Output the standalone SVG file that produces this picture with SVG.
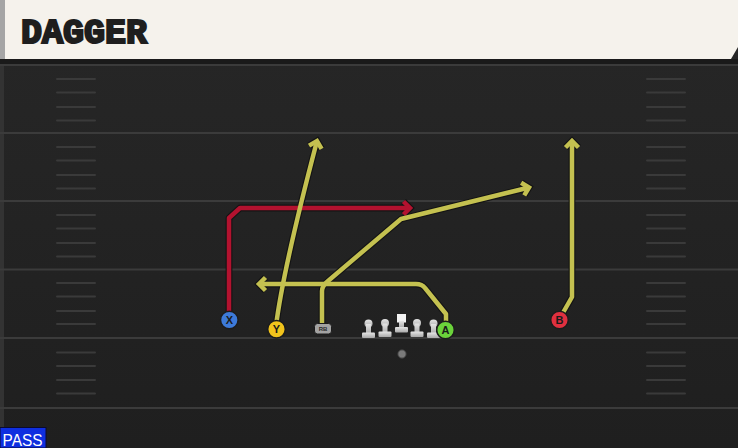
<svg xmlns="http://www.w3.org/2000/svg" width="738" height="448" viewBox="0 0 738 448">
  <defs>
    <style>
      .fline { stroke: #3b3b3b; stroke-width: 2; }
      .hash { stroke: #3a3a3a; stroke-width: 2; stroke-linecap: round; }
      .out { fill: none; stroke: #141414; stroke-width: 6.8; stroke-linejoin: round; stroke-linecap: butt; }
      .yel { fill: none; stroke: #c4c150; stroke-width: 4.5; stroke-linejoin: round; }
      .red { fill: none; stroke: #b3122f; stroke-width: 4.5; stroke-linejoin: round; }
      .plab { font-family: "Liberation Sans", Arial, sans-serif; font-weight: bold; font-size: 11px; fill: #1a1a1a; text-anchor: middle; }
      .pc { stroke: #1c1c1c; stroke-width: 1.5; }
      .ol { fill: url(#olg); }
      .title { font-family: "Liberation Mono", "Courier New", monospace; font-weight: bold; font-size: 35px; fill: #1e1e1e; stroke: #1e1e1e; stroke-width: 2.2; stroke-linejoin: miter; }
    </style>
    <linearGradient id="olg" x1="0" y1="0" x2="0" y2="1">
      <stop offset="0" stop-color="#e6e6e6"/>
      <stop offset="1" stop-color="#a9a9a9"/>
    </linearGradient>
    <linearGradient id="fieldg" x1="0" y1="0" x2="0" y2="1">
      <stop offset="0" stop-color="#272727"/>
      <stop offset="1" stop-color="#1f1f1f"/>
    </linearGradient>
    <marker id="aOut" markerUnits="userSpaceOnUse" viewBox="-12 -12 24 24" markerWidth="24" markerHeight="24" refX="0" refY="0" orient="auto">
      <path d="M-6.5,-6.5 L0,0 L-6.5,6.5" fill="none" stroke="#141414" stroke-width="6.8" stroke-linejoin="miter"/>
    </marker>
    <marker id="aYel" markerUnits="userSpaceOnUse" viewBox="-12 -12 24 24" markerWidth="24" markerHeight="24" refX="0" refY="0" orient="auto">
      <path d="M-6.5,-6.5 L0,0 L-6.5,6.5" fill="none" stroke="#c4c150" stroke-width="4.5" stroke-linejoin="miter"/>
    </marker>
    <marker id="aRed" markerUnits="userSpaceOnUse" viewBox="-12 -12 24 24" markerWidth="24" markerHeight="24" refX="0" refY="0" orient="auto">
      <path d="M-6.5,-6.5 L0,0 L-6.5,6.5" fill="none" stroke="#b3122f" stroke-width="4.5" stroke-linejoin="miter"/>
    </marker>
  </defs>

  <!-- field -->
  <rect x="0" y="0" width="738" height="448" fill="url(#fieldg)"/>
  <rect x="0" y="59" width="4" height="389" fill="#333333"/>
  <rect x="0" y="59" width="738" height="5" fill="#1a1a1a"/>
  <g id="field-lines">
    <line class="fline" x1="0" y1="65" x2="738" y2="65"/>
    <line class="fline" x1="0" y1="133" x2="738" y2="133"/>
    <line class="fline" x1="0" y1="201" x2="738" y2="201"/>
    <line class="fline" x1="0" y1="269.5" x2="738" y2="269.5"/>
    <line class="fline" x1="0" y1="338" x2="738" y2="338"/>
    <line class="fline" x1="0" y1="408" x2="738" y2="408"/>
  </g>
  <g id="hashes">
    <path class="hash" d="M57,79H95M57,92.5H95M57,107H95M57,120.5H95 M57,147H95M57,160.5H95M57,175H95M57,188.5H95 M57,215H95M57,228.5H95M57,243H95M57,256.5H95 M57,283H95M57,296.5H95M57,311H95M57,324H95 M57,352.5H95M57,366H95M57,380H95M57,393.5H95"/>
    <path class="hash" d="M647,79H685M647,92.5H685M647,107H685M647,120.5H685 M647,147H685M647,160.5H685M647,175H685M647,188.5H685 M647,215H685M647,228.5H685M647,243H685M647,256.5H685 M647,283H685M647,296.5H685M647,311H685M647,324H685 M647,352.5H685M647,366H685M647,380H685M647,393.5H685"/>
  </g>

  <!-- header -->
  <g id="header">
    <path d="M5,0 H738 V47 L731,59 H5 Z" fill="#f5f2ec"/>
    <rect x="0" y="0" width="5" height="59" fill="#a5a5a5"/>
    <text class="title" x="21" y="43" textLength="126" lengthAdjust="spacingAndGlyphs">DAGGER</text>
  </g>

  <!-- routes -->
  <g id="connectors">
    <path id="route-x-o" class="out" d="M229,318 V218 L240,208 H410" marker-end="url(#aOut)"/>
    <path id="route-y-o" class="out" d="M276,326 Q283,270 317,141" marker-end="url(#aOut)"/>
    <path id="route-rb-o" class="out" d="M322,324 V291 Q322,286 328,281 L401,219 L529,187.5" marker-end="url(#aOut)"/>
    <path id="route-a-o" class="out" d="M446,326 V314 L425,288 Q422,284 416,284 H259" marker-end="url(#aOut)"/>
    <path id="route-b-o" class="out" d="M560,318 L572,297 V141" marker-end="url(#aOut)"/>

    <path class="red" d="M229,318 V218 L240,208 H410" marker-end="url(#aRed)"/>
    <path class="yel" d="M276,326 Q283,270 317,141" marker-end="url(#aYel)"/>
    <path class="yel" d="M322,324 V291 Q322,286 328,281 L401,219 L529,187.5" marker-end="url(#aYel)"/>
    <path class="yel" d="M446,326 V314 L425,288 Q422,284 416,284 H259" marker-end="url(#aYel)"/>
    <path class="yel" d="M560,318 L572,297 V141" marker-end="url(#aYel)"/>
  </g>

  <!-- offensive line -->
  <g id="ol-1"><circle class="ol" cx="368.5" cy="323.5" r="4"/><rect class="ol" x="366" y="324" width="5" height="10"/><rect class="ol" x="362" y="332.5" width="13" height="5.5" rx="1"/></g>
  <g id="ol-2"><circle class="ol" cx="385" cy="323" r="4"/><rect class="ol" x="382.5" y="323.5" width="5" height="10"/><rect class="ol" x="378.5" y="331.5" width="13" height="5.5" rx="1"/></g>
  <g id="ol-center"><rect x="397" y="314" width="9" height="8.5" fill="#f2f2f2"/><rect class="ol" x="399" y="321" width="5" height="7"/><rect class="ol" x="395" y="327" width="13" height="5.5" rx="1"/></g>
  <g id="ol-4"><circle class="ol" cx="417" cy="323" r="4"/><rect class="ol" x="414.5" y="323.5" width="5" height="10"/><rect class="ol" x="410.5" y="331.5" width="13" height="5.5" rx="1"/></g>
  <g id="ol-5"><circle class="ol" cx="433.5" cy="323.5" r="4"/><rect class="ol" x="431" y="324" width="5" height="10"/><rect class="ol" x="427" y="332.5" width="13" height="5.5" rx="1"/></g>
  <g id="qb"><circle cx="402" cy="354" r="4.2" fill="#7a7a7a" stroke="#3a3a3a" stroke-width="1"/></g>

  <!-- players -->
  <g id="player-x"><circle class="pc" cx="229.3" cy="320" r="8.8" fill="#3d7ad9"/><text class="plab" x="229.3" y="324">X</text></g>
  <g id="player-y"><circle class="pc" cx="276.5" cy="329.3" r="8.8" fill="#f1c31c"/><text class="plab" x="276.5" y="333.3">Y</text></g>
  <g id="player-rb"><rect x="314.5" y="323.5" width="17" height="10.5" rx="3" fill="#a3a3a3" stroke="#1c1c1c" stroke-width="1"/><text x="323" y="331.3" font-family="'Liberation Sans', Arial, sans-serif" font-weight="bold" font-size="6" fill="#2a2a2a" text-anchor="middle">RB</text></g>
  <g id="player-a"><circle class="pc" cx="445.5" cy="330" r="8.8" fill="#6bd23b"/><text class="plab" x="445.5" y="334">A</text></g>
  <g id="player-b"><circle class="pc" cx="559.5" cy="320" r="8.8" fill="#e0303f"/><text class="plab" x="559.5" y="324">B</text></g>

  <!-- pass tag -->
  <g id="pass-tag">
    <rect x="0" y="427.5" width="46" height="20.5" fill="#0f2fe0" stroke="#0a0a30" stroke-width="1"/>
    <text x="2.5" y="445.5" font-family="'Liberation Sans', Arial, sans-serif" font-size="17" fill="#ffffff" textLength="40" lengthAdjust="spacingAndGlyphs">PASS</text>
  </g>
</svg>
